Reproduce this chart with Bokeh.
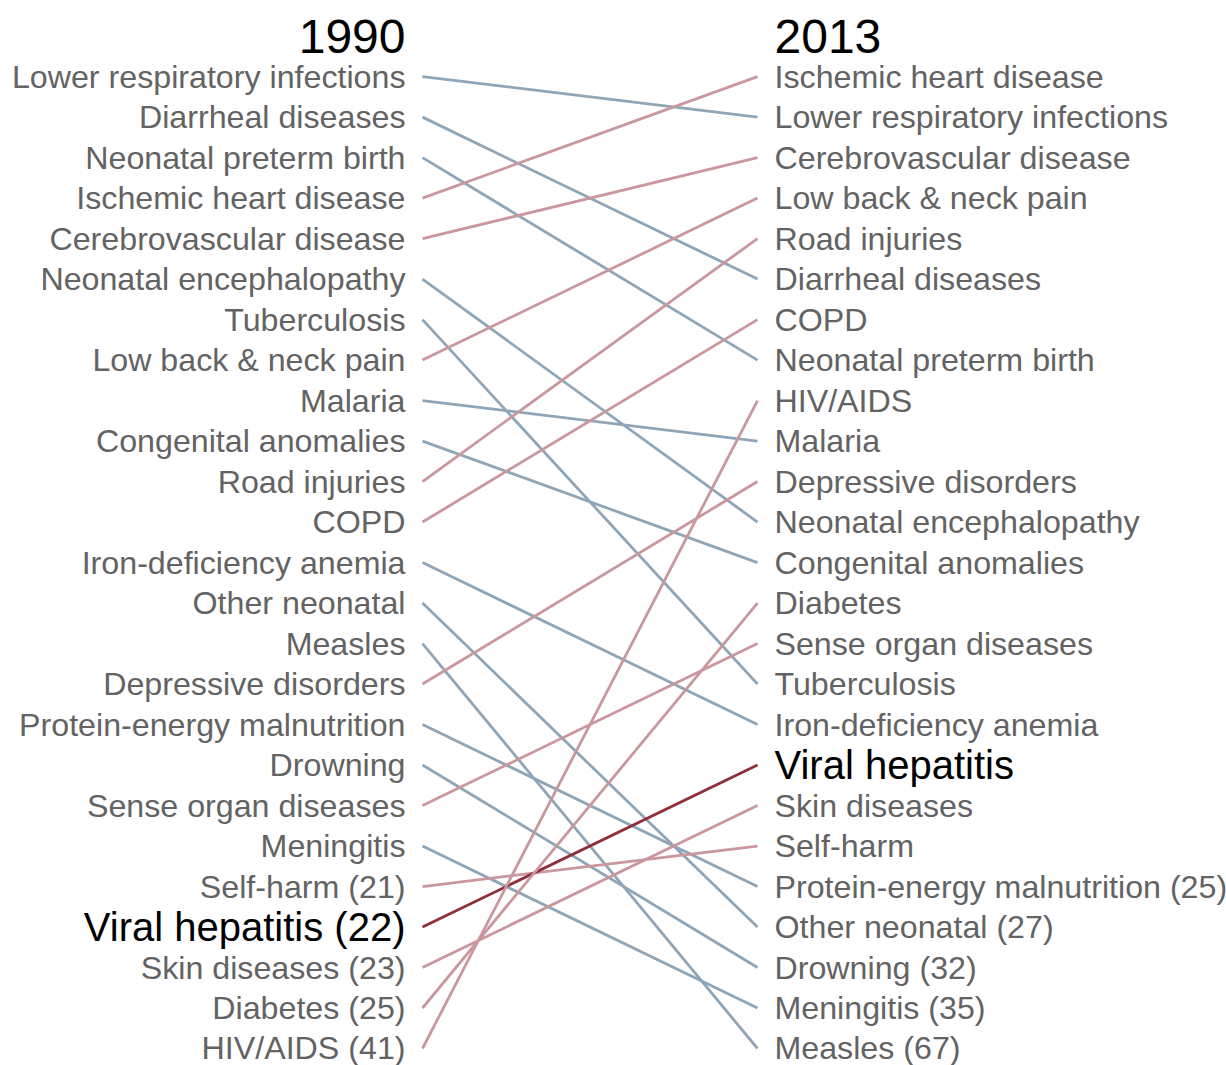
from bokeh.plotting import figure
from bokeh.models import Range1d
from bokeh.embed import file_html
from bokeh.resources import INLINE
from bokeh.core.properties import value

# Ranks (1990 -> 2013)
diseases = [
    "Lower respiratory infections", "Diarrheal diseases", "Neonatal preterm birth",
    "Ischemic heart disease", "Cerebrovascular disease", "Neonatal encephalopathy",
    "Tuberculosis", "Low back & neck pain", "Malaria", "Congenital anomalies",
    "Road injuries", "COPD", "Iron-deficiency anemia", "Other neonatal", "Measles",
    "Depressive disorders", "Protein-energy malnutrition", "Drowning",
    "Sense organ diseases", "Meningitis", "Self-harm", "Viral hepatitis",
    "Skin diseases", "Diabetes", "HIV/AIDS",
]
rank_1990 = [1, 2, 3, 4, 5, 6, 7, 8, 9, 10, 11, 12, 13, 14, 15, 16, 17, 18, 19, 20, 21, 22, 23, 25, 41]
rank_2013 = [2, 6, 8, 1, 3, 12, 16, 4, 10, 13, 5, 7, 17, 27, 67, 11, 25, 32, 15, 35, 20, 18, 19, 14, 9]
highlight = "Viral hepatitis"
years = ["1990", "2013"]

TOP_N = 20

# styles
XL_TEXT, XL_LINE, XR_LINE, XR_TEXT = 405, 422, 757, 774
C_UP, C_DOWN, C_HI = "#c9979d", "#8fa5b8", "#8e2f3a"
C_TEXT = "#636363"
FONT = value("Liberation Sans")

# display position = order within each year's list
order_l = sorted(range(len(diseases)), key=lambda i: rank_1990[i])
order_r = sorted(range(len(diseases)), key=lambda i: rank_2013[i])
pos_l = {i: k + 1 for k, i in enumerate(order_l)}
pos_r = {i: k + 1 for k, i in enumerate(order_r)}

p = figure(width=1226, height=1065, output_backend="svg", toolbar_location=None,
           x_range=Range1d(0, 1226), y_range=Range1d(25.42, -0.88),
           min_border=0, outline_line_color=None)
p.axis.visible = False
p.grid.visible = False

# lines
for i, d in enumerate(diseases):
    a, b = rank_1990[i], rank_2013[i]
    col = C_HI if d == highlight else (C_UP if b < a else C_DOWN)
    p.line([XL_LINE, XR_LINE], [pos_l[i], pos_r[i]], line_color=col, line_width=2.8)

# labels
for i, d in enumerate(diseases):
    a, b = rank_1990[i], rank_2013[i]
    hi = d == highlight
    size = "40px" if hi else "32.2px"
    color = "#000000" if hi else C_TEXT
    lab_l = d if a <= TOP_N else f"{d} ({a})"
    lab_r = d if b <= TOP_N else f"{d} ({b})"
    p.text(x=[XL_TEXT], y=[pos_l[i]], text=[lab_l], text_align="right", text_baseline="middle",
           text_font=FONT, text_font_size=size, text_color=color)
    p.text(x=[XR_TEXT], y=[pos_r[i]], text=[lab_r], text_align="left", text_baseline="middle",
           text_font=FONT, text_font_size=size, text_color=color)

# titles
p.text(x=[XL_TEXT], y=[0], text=[years[0]], text_align="right", text_baseline="middle",
       text_font=FONT, text_font_size="48px", text_color="#000000")
p.text(x=[XR_TEXT], y=[0], text=[years[1]], text_align="left", text_baseline="middle",
       text_font=FONT, text_font_size="48px", text_color="#000000")

open("out.html", "w").write(file_html(p, INLINE))
